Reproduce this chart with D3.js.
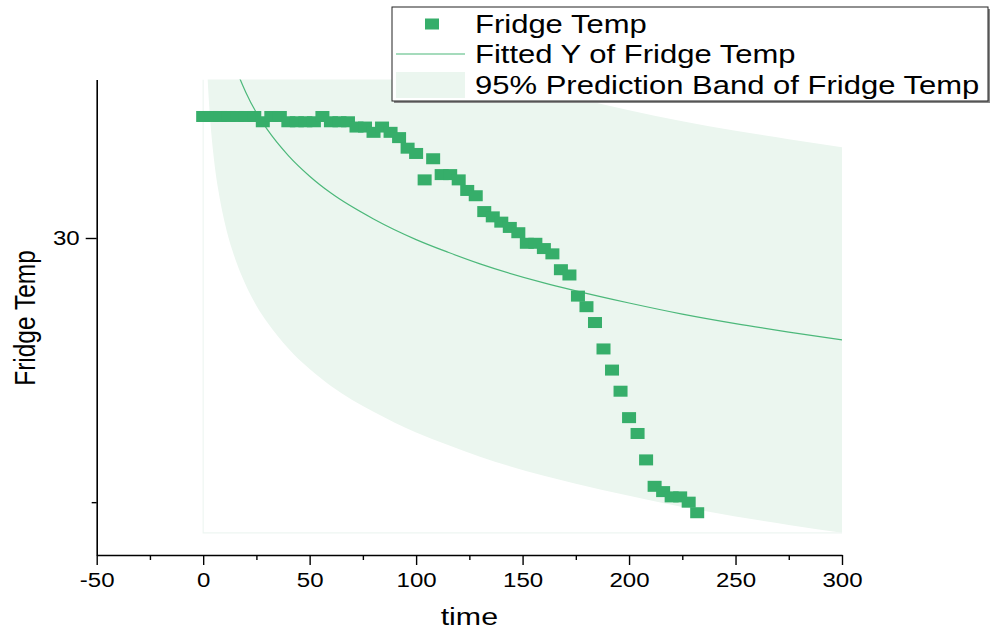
<!DOCTYPE html>
<html>
<head>
<meta charset="utf-8">
<script src="https://cdn.jsdelivr.net/npm/d3@7"></script>
<style>
  html, body { margin: 0; padding: 0; background: #fff; }
  svg { display: block; }
  text { font-family: "Liberation Sans", Arial, sans-serif; fill: #000; }
</style>
</head>
<body>
<svg id="chart" width="996" height="631"></svg>
<script>
// ---- data ----
const time = [0,4,8,12,16,20,24,28,32,36,40,44,48,52,56,60,64,68,72,76,80,84,88,92,96,100,104,108,112,116,120,124,128,132,136,140,144,148,152,156,160,164,168,172,176,180,184,188,192,196,200,204,208,212,216,220,224,228,232];
const fridgeTemp = [32.3,32.3,32.3,32.3,32.3,32.3,32.3,32.2,32.3,32.3,32.2,32.2,32.2,32.2,32.3,32.2,32.2,32.2,32.1,32.1,32.0,32.1,32.0,31.9,31.7,31.6,31.1,31.5,31.2,31.2,31.1,30.9,30.8,30.5,30.4,30.3,30.2,30.1,29.9,29.9,29.8,29.7,29.4,29.3,28.9,28.7,28.4,27.9,27.5,27.1,26.6,26.3,25.8,25.3,25.2,25.1,25.1,25.0,24.8];

const fitTime  = [2,2.5,3,4,5,6,7,8,10,12,14,17.4,20,25,30,40,50,60,80,100,115,130,160,175,200,225,250,275,300];
const fittedY  = [36.75,36.36,36.05,35.55,35.16,34.84,34.58,34.35,33.96,33.64,33.38,33.00,32.76,32.37,32.06,31.56,31.17,30.85,30.36,29.97,29.73,29.51,29.15,29.00,28.77,28.56,28.38,28.22,28.07];
const bandLower = [33.10,32.71,32.40,31.90,31.51,31.19,30.93,30.70,30.31,29.99,29.73,29.35,29.11,28.72,28.41,27.91,27.52,27.20,26.71,26.32,26.08,25.86,25.50,25.35,25.12,24.91,24.73,24.57,24.42];
const bandUpper = [40.40,40.01,39.70,39.20,38.81,38.49,38.23,38.00,37.61,37.29,37.03,36.65,36.41,36.02,35.71,35.21,34.82,34.50,34.01,33.62,33.38,33.16,32.80,32.65,32.42,32.21,32.03,31.87,31.72];
const bandFrame = [[0,33],[0,24.42],[300,24.42]];

const xTicks = [-50,0,50,100,150,200,250,300];
const xMinorTicks = [-25,25,75,125,175,225,275];
const yTicks = [30];
const yMinorTicks = [25];

const legendLabels = ["Fridge Temp","Fitted Y of Fridge Temp","95% Prediction Band of Fridge Temp"];

// ---- layout ----
const svg = d3.select("#chart");
const SX = 1.24; // horizontal text stretch seen in the reference
const green = "#36ae6a", bandColor = "#ebf6ef", fitColor = "#4cb87a";
const pLeft = 96.7, pRight = 842, pTop = 79.5, pBottom = 555;

const x = d3.scaleLinear().domain([-50,300]).range([pLeft,pRight]);
const y = d3.scaleLinear().domain([24,33]).range([pBottom,pTop]);

svg.append("defs").append("clipPath").attr("id","plotClip")
  .append("rect").attr("x",pLeft).attr("y",pTop).attr("width",pRight-pLeft).attr("height",pBottom-pTop);

const plot = svg.append("g").attr("clip-path","url(#plotClip)");

const bandData = fitTime.map((t,i)=>({t, lo: bandLower[i], hi: bandUpper[i]}));
plot.append("path")
  .datum(bandData)
  .attr("fill", bandColor)
  .attr("d", d3.area().x(d=>x(d.t)).y0(d=>y(d.lo)).y1(d=>y(d.hi)).curve(d3.curveMonotoneX));

plot.append("path")
  .datum(bandFrame)
  .attr("fill","none").attr("stroke","#eef6f2").attr("stroke-width",1.2)
  .attr("d", d3.line().x(d=>x(d[0])).y(d=>y(d[1])));

plot.append("path")
  .datum(fitTime.map((t,i)=>[t,fittedY[i]]))
  .attr("fill","none").attr("stroke",fitColor).attr("stroke-width",1.2)
  .attr("d", d3.line().x(d=>x(d[0])).y(d=>y(d[1])).curve(d3.curveMonotoneX));

const mw = 14, mh = 11;
plot.selectAll("rect.pt").data(time.map((t,i)=>[t,fridgeTemp[i]])).enter()
  .append("rect").attr("class","pt")
  .attr("x", d=>x(d[0])-mw/2).attr("y", d=>y(d[1])-mh/2)
  .attr("width",mw).attr("height",mh).attr("fill",green);

// ---- axes ----
const fmt = d => String(d);
function styleAxis(g){
  g.select(".domain").attr("stroke","#000").attr("stroke-width",1.6);
  g.selectAll(".tick line").attr("stroke","#000").attr("stroke-width",1.4);
}
const xAxis = svg.append("g").attr("transform",`translate(0,${pBottom})`)
  .call(d3.axisBottom(x).tickValues(xTicks).tickSize(10).tickSizeOuter(0).tickPadding(8).tickFormat(fmt));
styleAxis(xAxis);
xAxis.selectAll("text").attr("font-size",19.4).attr("fill","#000")
  .attr("font-family",'"Liberation Sans", Arial, sans-serif')
  .attr("transform",`scale(${SX},1)`);
const xMinor = svg.append("g").attr("transform",`translate(0,${pBottom})`)
  .call(d3.axisBottom(x).tickValues(xMinorTicks).tickSize(5).tickFormat(""));
xMinor.select(".domain").remove();
xMinor.selectAll(".tick line").attr("stroke","#000").attr("stroke-width",1.4);

const yAxis = svg.append("g").attr("transform",`translate(${pLeft},0)`)
  .call(d3.axisLeft(y).tickValues(yTicks).tickSize(11).tickSizeOuter(0).tickPadding(6).tickFormat(fmt));
styleAxis(yAxis);
yAxis.selectAll("text").attr("font-size",19.4).attr("fill","#000")
  .attr("font-family",'"Liberation Sans", Arial, sans-serif')
  .attr("x", -17/SX).attr("transform",`scale(${SX},1)`);
const yMinor = svg.append("g").attr("transform",`translate(${pLeft},0)`)
  .call(d3.axisLeft(y).tickValues(yMinorTicks).tickSize(5).tickFormat(""));
yMinor.select(".domain").remove();
yMinor.selectAll(".tick line").attr("stroke","#000").attr("stroke-width",1.4);

// axis titles
svg.append("text").attr("text-anchor","middle").attr("font-size",24.5)
  .attr("transform",`translate(${(pLeft+pRight)/2},625) scale(${SX},1)`).text("time");
svg.append("text").attr("text-anchor","middle").attr("font-size",24.5)
  .attr("transform",`translate(35,318) scale(${SX},1) rotate(-90)`).text("Fridge Temp");

// ---- legend ----
const lg = svg.append("g");
const lx = 392, ly = 7, lw = 596, lh = 94;
lg.append("rect").attr("x",lx+2).attr("y",ly+2).attr("width",lw).attr("height",lh).attr("fill","#888");
lg.append("rect").attr("x",lx).attr("y",ly).attr("width",lw).attr("height",lh)
  .attr("fill","#fff").attr("stroke","#222").attr("stroke-width",1);
const rowY = [24, 54, 85];
lg.append("rect").attr("x",432-mw/2).attr("y",rowY[0]-mh/2).attr("width",mw).attr("height",mh).attr("fill",green);
lg.append("line").attr("x1",396).attr("x2",465).attr("y1",rowY[1]).attr("y2",rowY[1])
  .attr("stroke",fitColor).attr("stroke-width",1.2);
lg.append("rect").attr("x",396).attr("y",72).attr("width",69).attr("height",26).attr("fill",bandColor);
legendLabels.forEach((s,i)=>{
  lg.append("text").attr("font-size",25)
    .attr("transform",`translate(475,${rowY[i]+9}) scale(${SX},1)`).text(s);
});
</script>
</body>
</html>
